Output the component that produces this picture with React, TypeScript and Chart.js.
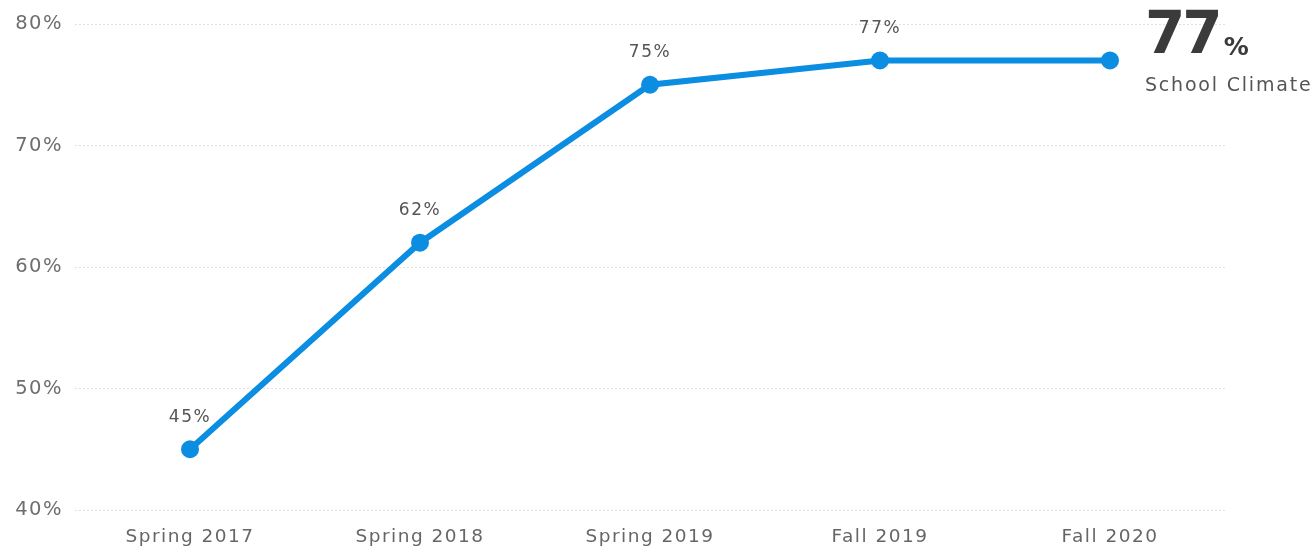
import React, { useEffect, useRef } from "react";
import { Chart, registerables } from "chart.js";

Chart.register(...registerables);

const categories = ["Spring 2017", "Spring 2018", "Spring 2019", "Fall 2019", "Fall 2020"];
const schoolClimate = [45, 62, 75, 77, 77];
const seriesName = "School Climate";
const yMin = 40;
const yMax = 80;
const yStep = 10;

const FONT = "'DejaVu Sans', sans-serif";
const LINE_COLOR = "#0b8de2";

const spacingPlugin = {
  id: "spacing",
  beforeUpdate(chart: any) {
    chart.ctx.letterSpacing = "1.5px";
  },
  beforeDraw(chart: any) {
    chart.ctx.letterSpacing = "1.5px";
  },
};

const labelsPlugin = {
  id: "pointLabels",
  afterDatasetsDraw(chart: any) {
    const ctx = chart.ctx;
    const meta = chart.getDatasetMeta(0);
    const data = chart.data.datasets[0].data as number[];
    ctx.save();
    ctx.letterSpacing = "1.5px";
    ctx.font = `17px ${FONT}`;
    ctx.fillStyle = "#555555";
    ctx.textAlign = "center";
    ctx.textBaseline = "middle";
    meta.data.forEach((pt: any, i: number) => {
      if (i === data.length - 1) return;
      ctx.fillText(`${data[i]}%`, pt.x, pt.y - 32);
    });
    ctx.restore();
  },
};

const calloutPlugin = {
  id: "callout",
  afterDraw(chart: any) {
    const ctx = chart.ctx;
    const data = chart.data.datasets[0].data as number[];
    const last = data[data.length - 1];
    const x0 = chart.chartArea.right - 80;
    ctx.save();
    ctx.fillStyle = "#3b3b3b";
    ctx.textAlign = "left";
    ctx.textBaseline = "alphabetic";
    ctx.letterSpacing = "-3px";
    ctx.font = `bold 58px ${FONT}`;
    const big = `${last}`;
    ctx.fillText(big, x0, 53);
    const w = ctx.measureText(big).width;
    ctx.letterSpacing = "0px";
    ctx.font = `bold 25px ${FONT}`;
    ctx.fillText("%", x0 + w + 4, 55);
    ctx.letterSpacing = "1.8px";
    ctx.font = `19px ${FONT}`;
    ctx.fillStyle = "#555555";
    ctx.textBaseline = "middle";
    ctx.fillText(seriesName, x0, 86);
    ctx.restore();
  },
};

export default function App() {
  const ref = useRef<HTMLCanvasElement>(null);
  useEffect(() => {
    if (!ref.current) return;
    const chart = new Chart(ref.current, {
      type: "line",
      data: {
        labels: categories,
        datasets: [
          {
            label: seriesName,
            data: schoolClimate,
            borderColor: LINE_COLOR,
            backgroundColor: LINE_COLOR,
            borderWidth: 6,
            pointRadius: 9,
            pointHoverRadius: 9,
            pointBackgroundColor: LINE_COLOR,
            pointBorderWidth: 0,
            tension: 0,
          },
        ],
      },
      options: {
        responsive: false,
        animation: false,
        layout: { padding: { top: 24, right: 89, left: 0, bottom: 0 } },
        plugins: {
          legend: { display: false },
          tooltip: { enabled: false },
        },
        scales: {
          x: {
            offset: true,
            grid: { display: false, drawTicks: false },
            border: { display: false },
            ticks: {
              color: "#666666",
              font: { family: FONT, size: 18.5 },
              padding: 16,
              maxRotation: 0,
            },
            afterFit(scale: any) {
              scale.height = 39;
            },
          },
          y: {
            min: yMin,
            max: yMax,
            grid: {
              color: "#e0e0e0",
              lineWidth: 1,
              drawTicks: false,
            },
            border: { display: false, dash: [2, 2] },
            ticks: {
              stepSize: yStep,
              color: "#6e6e6e",
              font: { family: FONT, size: 19.5 },
              padding: 12,
              callback: (v: any) => `${v}%`,
            },
            afterFit(scale: any) {
              scale.width = 75;
            },
          },
        },
      },
      plugins: [spacingPlugin, labelsPlugin, calloutPlugin],
    });
    return () => chart.destroy();
  }, []);
  return (
    <div style={{ position: "fixed", left: 0, top: 0, width: 1314, height: 549, background: "#fff" }}>
      <canvas ref={ref} width={1314} height={549} />
    </div>
  );
}
